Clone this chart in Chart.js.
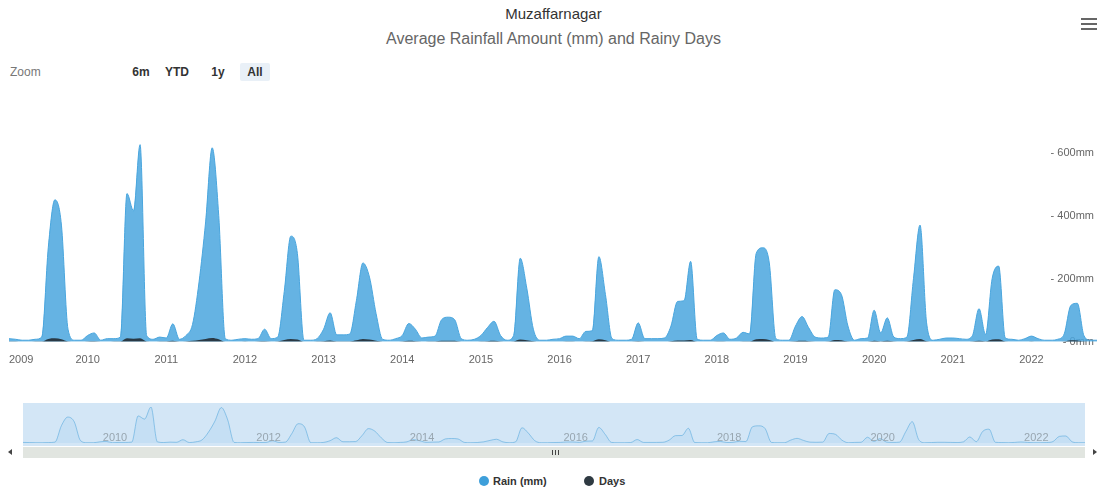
<!DOCTYPE html>
<html>
<head>
<meta charset="utf-8">
<script src="https://cdn.jsdelivr.net/npm/chart.js@4.4.1/dist/chart.umd.min.js"></script>
<style>
html,body{margin:0;padding:0;background:#fff;width:1107px;height:495px;overflow:hidden;font-family:"Liberation Sans",Arial,sans-serif;}
.abs{position:absolute;}
#title{left:0;width:1107px;top:5px;text-align:center;font-size:15px;line-height:18px;color:#333;}
#subtitle{left:0;width:1107px;top:30px;text-align:center;font-size:16px;line-height:18px;color:#666;}
.rs{top:65px;font-size:12px;line-height:14px;}
#zoomlbl{left:10px;color:#777;}
.btn{color:#333;font-weight:bold;text-align:center;width:30px;}
#btnAll{background:#e9f0f7;border-radius:2px;}
.hb{left:1081px;width:16px;height:2px;background:#666;}
#mainc{left:0;top:100px;}
#navc{left:0;top:400px;}
#track{left:23px;top:447px;width:1062px;height:11px;background:#e1e5e0;}
.grip{top:450px;width:1px;height:5px;background:#444;}
.arrL{left:8px;top:449px;width:0;height:0;border-top:3px solid transparent;border-bottom:3px solid transparent;border-right:4px solid #444;}
.arrR{left:1093px;top:449px;width:0;height:0;border-top:3px solid transparent;border-bottom:3px solid transparent;border-left:4px solid #444;}
.ldot{top:476px;width:10px;height:10px;border-radius:50%;}
.ltxt{top:474px;font-size:11px;line-height:14px;font-weight:bold;color:#333;}
</style>
</head>
<body>
<div id="title" class="abs">Muzaffarnagar</div>
<div id="subtitle" class="abs">Average Rainfall Amount (mm) and Rainy Days</div>
<div id="zoomlbl" class="abs rs">Zoom</div>
<div class="abs rs btn" style="left:126px">6m</div>
<div class="abs rs btn" style="left:162px">YTD</div>
<div class="abs rs btn" style="left:203px">1y</div>
<div id="btnAll" class="abs rs btn" style="left:240px;top:63px;padding:2px 0;">All</div>
<div class="abs hb" style="top:18px"></div>
<div class="abs hb" style="top:23px"></div>
<div class="abs hb" style="top:28px"></div>

<canvas id="mainc" class="abs" width="1107" height="280"></canvas>
<canvas id="navc" class="abs" width="1107" height="50"></canvas>

<div class="abs arrL"></div>
<div id="track" class="abs"></div>
<div class="abs grip" style="left:552px"></div>
<div class="abs grip" style="left:555px"></div>
<div class="abs grip" style="left:558px"></div>
<div class="abs arrR"></div>

<div class="abs ldot" style="left:479px;background:#3e9fda"></div>
<div class="abs ltxt" style="left:493px">Rain (mm)</div>
<div class="abs ldot" style="left:584px;background:#2f3a42"></div>
<div class="abs ltxt" style="left:599px">Days</div>

<script>
// ---- data (monthly, Jan..Dec) ----
const years = [2009,2010,2011,2012,2013,2014,2015,2016,2017,2018,2019,2020,2021,2022];
const rain2009 = [10, 8, 5, 5, 8, 15, 300, 450, 370, 40, 5, 5];
const rain2010 = [20, 28, 5, 10, 10, 15, 470, 415, 625, 20, 8, 15];
const rain2011 = [12, 57, 8, 20, 55, 190, 380, 615, 400, 10, 5, 8];
const rain2012 = [10, 8, 10, 40, 10, 15, 160, 335, 280, 5, 5, 10];
const rain2013 = [40, 92, 22, 22, 25, 130, 250, 205, 90, 8, 5, 10];
const rain2014 = [20, 58, 40, 12, 15, 18, 70, 78, 70, 10, 5, 8];
const rain2015 = [20, 45, 65, 20, 5, 20, 265, 170, 40, 5, 5, 8];
const rain2016 = [10, 18, 18, 10, 33, 35, 270, 150, 10, 5, 5, 8];
const rain2017 = [60, 10, 10, 10, 12, 50, 128, 130, 255, 8, 5, 5];
const rain2018 = [20, 28, 8, 12, 30, 25, 280, 298, 250, 10, 5, 5];
const rain2019 = [50, 80, 45, 15, 12, 15, 165, 150, 50, 5, 10, 12];
const rain2020 = [100, 28, 76, 15, 10, 15, 200, 370, 60, 5, 8, 12];
const rain2021 = [12, 10, 8, 20, 105, 23, 200, 240, 12, 8, 5, 10];
const rain2022 = [18, 10, 5, 5, 8, 25, 115, 122, 20, 5, 5];

const days2009 = [1, 1, 0, 0, 1, 1, 9, 11, 8, 1, 0, 0];
const days2010 = [1, 2, 0, 0, 1, 1, 11, 10, 11, 1, 0, 1];
const days2011 = [1, 3, 0, 1, 3, 6, 9, 12, 8, 0, 0, 0];
const days2012 = [1, 0, 1, 2, 0, 1, 6, 9, 7, 0, 0, 1];
const days2013 = [2, 4, 1, 1, 1, 5, 9, 7, 3, 0, 0, 0];
const days2014 = [1, 3, 2, 0, 1, 1, 3, 3, 3, 0, 0, 0];
const days2015 = [1, 2, 3, 1, 0, 1, 7, 5, 2, 0, 0, 0];
const days2016 = [0, 1, 1, 0, 1, 2, 8, 5, 0, 0, 0, 0];
const days2017 = [2, 0, 0, 0, 0, 2, 4, 4, 6, 0, 0, 0];
const days2018 = [1, 1, 0, 0, 1, 1, 8, 9, 6, 0, 0, 0];
const days2019 = [2, 3, 2, 0, 0, 1, 6, 5, 1, 0, 0, 0];
const days2020 = [3, 1, 3, 1, 0, 1, 6, 9, 2, 0, 0, 0];
const days2021 = [0, 0, 0, 1, 3, 1, 7, 8, 1, 0, 0, 0];
const days2022 = [1, 0, 0, 0, 0, 1, 5, 4, 1, 0, 0];

const yTicks = [0, 200, 400, 600];
const navYears = [2010, 2012, 2014, 2016, 2018, 2020, 2022];

const rainByYear = [rain2009,rain2010,rain2011,rain2012,rain2013,rain2014,rain2015,rain2016,rain2017,rain2018,rain2019,rain2020,rain2021,rain2022];
const daysByYear = [days2009,days2010,days2011,days2012,days2013,days2014,days2015,days2016,days2017,days2018,days2019,days2020,days2021,days2022];

const labels = [];
years.forEach((y, i) => rainByYear[i].forEach((v, j) => labels.push(y + '-' + String(j + 1).padStart(2, '0'))));
const rain = [].concat(...rainByYear);
const days = [].concat(...daysByYear);

const FONT = '"Liberation Sans", Arial, sans-serif';
Chart.defaults.font.family = FONT;

new Chart(document.getElementById('mainc'), {
  type: 'line',
  data: {
    labels: labels,
    datasets: [
      { label: 'Rain (mm)', data: rain, fill: 'origin', backgroundColor: 'rgba(74,166,222,0.85)',
        borderColor: '#4aa6de', borderWidth: 1, pointRadius: 0, cubicInterpolationMode: 'monotone', order: 1 },
      { label: 'Days', data: days, fill: 'origin', backgroundColor: 'rgba(36,44,52,0.9)',
        borderWidth: 0, borderColor: 'rgba(0,0,0,0)', pointRadius: 0, cubicInterpolationMode: 'monotone', order: 0 }
    ]
  },
  options: {
    responsive: false, animation: false,
    layout: { padding: { left: 9, right: 10, top: 21, bottom: 11 } },
    plugins: { legend: { display: false }, tooltip: { enabled: false }, title: { display: false } },
    scales: {
      x: {
        type: 'category', offset: false,
        grid: { display: true, drawOnChartArea: false, drawTicks: true, tickLength: 10, color: 'rgba(0,0,0,0)' },
        border: { display: false },
        ticks: {
          autoSkip: false, maxRotation: 0, minRotation: 0, padding: 2, align: 'inner',
          color: '#666', font: { size: 11 },
          callback: function (val, idx) { const l = labels[idx]; return l.endsWith('-01') ? l.slice(0, 4) : ''; }
        }
      },
      y: {
        position: 'right', min: 0, max: 700,
        grid: { display: false, drawTicks: false }, border: { display: false },
        afterBuildTicks: s => { s.ticks = yTicks.map(v => ({ value: v })); },
        ticks: { mirror: true, padding: -3, color: '#666', font: { size: 11 },
          callback: v => '- ' + v + 'mm' }
      }
    }
  }
});

const navPlugin = {
  id: 'navDeco',
  beforeDatasetsDraw(chart) {
    const { ctx, chartArea } = chart;
    ctx.save();
    ctx.fillStyle = '#d3e6f6';
    ctx.fillRect(chartArea.left, 3, chartArea.right - chartArea.left, 43);
    ctx.restore();
  },
  afterDatasetsDraw(chart) {
    const { ctx } = chart;
    const xs = chart.scales.x;
    ctx.save();
    ctx.fillStyle = '#98a6b0';
    ctx.font = '11px ' + FONT;
    ctx.textAlign = 'left';
    ctx.textBaseline = 'middle';
    navYears.forEach(y => {
      const idx = labels.indexOf(y + '-01');
      if (idx >= 0) ctx.fillText(String(y), xs.getPixelForValue(idx) + 3, 38);
    });
    ctx.restore();
  }
};

new Chart(document.getElementById('navc'), {
  type: 'line',
  data: { labels: labels, datasets: [
    { data: rain, fill: 'origin', backgroundColor: 'rgba(74,166,222,0.10)', borderColor: 'rgba(80,165,220,0.55)',
      borderWidth: 1, pointRadius: 0, cubicInterpolationMode: 'monotone' }
  ] },
  options: {
    responsive: false, animation: false,
    layout: { padding: { left: 23, right: 22, top: 7, bottom: 7 } },
    plugins: { legend: { display: false }, tooltip: { enabled: false } },
    scales: { x: { display: false, offset: false }, y: { display: false, min: 0, max: Math.max(...rain) } }
  },
  plugins: [navPlugin]
});
</script>
</body>
</html>
